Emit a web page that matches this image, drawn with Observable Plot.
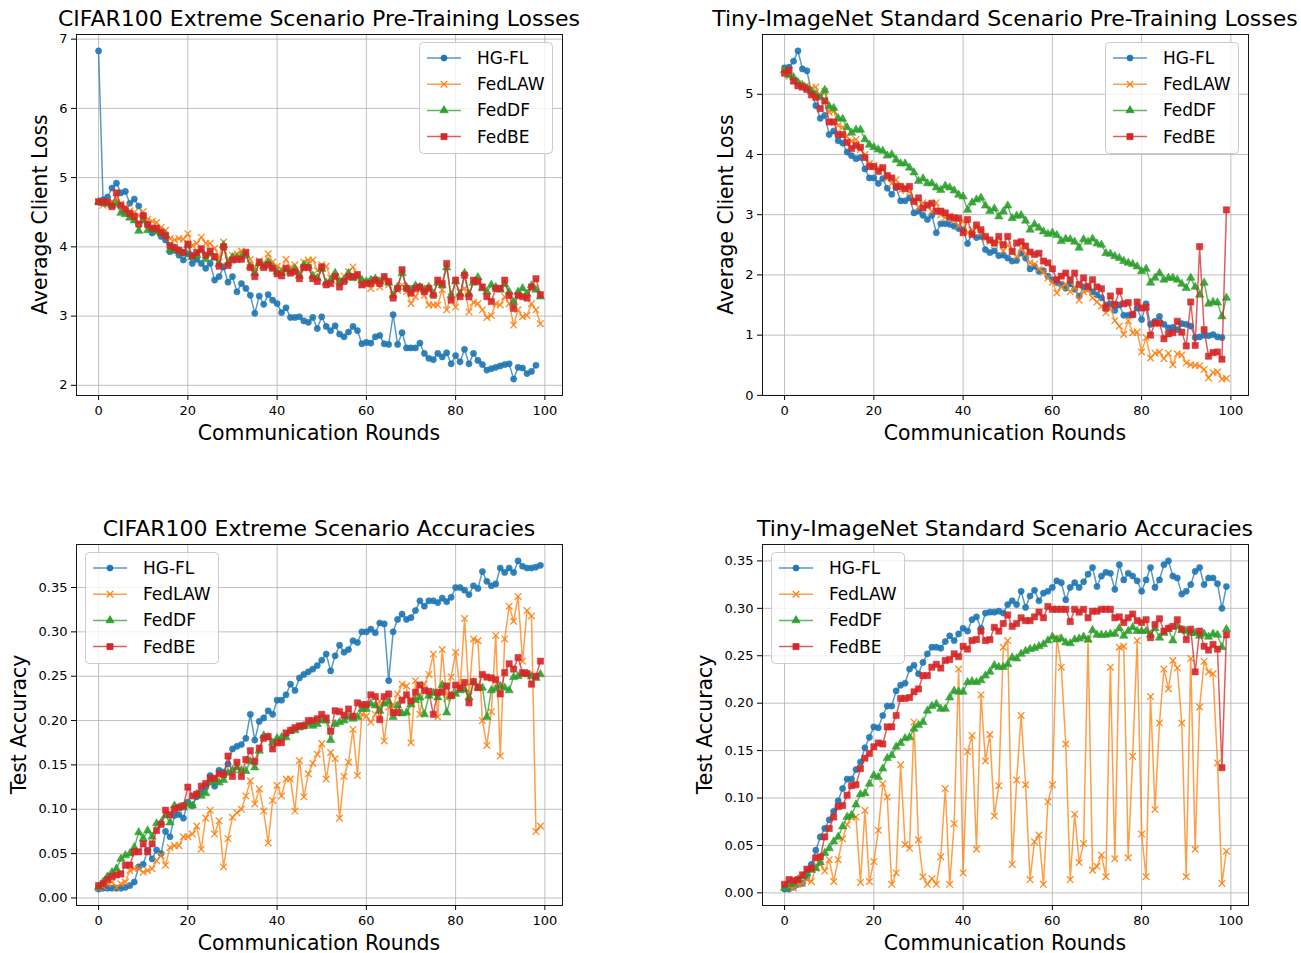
<!DOCTYPE html>
<html><head><meta charset="utf-8">
<script src="https://cdn.jsdelivr.net/npm/d3@7"></script>
<script src="https://cdn.jsdelivr.net/npm/@observablehq/plot@0.6"></script>
<style>
body{margin:0;background:#fff;}
#root{position:relative;width:1301px;height:953px;overflow:hidden;font-family:"DejaVu Sans",sans-serif;}
.panel{position:absolute;}
#overlay{position:absolute;left:0;top:0;pointer-events:none;}
</style></head><body><div id="root"></div>
<script>
// ---------- series meta ----------
const seriesNames = ["HG-FL", "FedLAW", "FedDF", "FedBE"];
const seriesColors = ["#1f77b4", "#ff7f0e", "#2ca02c", "#d62728"];
const seriesSymbols = ["circle", "times", "triangle", "square"];
const seriesR = [3.1, 3.1, 3.1, 3.5];

// ---------- tick values ----------
const xTicks = [0, 20, 40, 60, 80, 100];
const cifarLossTicks = [2, 3, 4, 5, 6, 7];
const tinyLossTicks = [0, 1, 2, 3, 4, 5];
const accTicks = [0, 0.05, 0.10, 0.15, 0.20, 0.25, 0.30, 0.35];

// ---------- CIFAR100 Extreme Scenario Pre-Training Losses ----------
const cifarLossHGFL = [6.83,4.68,4.72,4.85,4.92,4.78,4.80,4.63,4.69,4.59,
4.45,4.33,4.20,4.25,4.15,4.10,3.93,3.95,3.88,3.81,
3.90,3.76,3.82,3.76,3.69,3.76,3.52,3.57,3.71,3.49,
3.57,3.35,3.47,3.40,3.30,3.04,3.29,3.17,3.31,3.23,
3.18,3.05,3.12,2.98,2.98,2.99,2.93,2.91,2.98,2.82,
2.99,2.85,2.79,2.86,2.74,2.70,2.77,2.85,2.79,2.60,
2.62,2.61,2.70,2.72,2.60,2.59,3.02,2.59,2.76,2.54,
2.54,2.54,2.61,2.46,2.39,2.37,2.46,2.41,2.47,2.31,
2.43,2.34,2.52,2.31,2.46,2.36,2.30,2.22,2.24,2.26,
2.28,2.30,2.31,2.09,2.26,2.25,2.17,2.20,2.29];
const cifarLossFedLAW = [4.65,4.60,4.62,4.65,4.70,4.62,4.58,4.52,4.50,4.45,
4.51,4.40,4.37,4.35,4.28,4.24,4.12,4.10,4.12,4.11,
4.19,4.02,4.05,4.14,4.05,4.05,3.98,3.85,4.07,3.80,
3.88,3.90,3.94,3.92,3.82,3.70,3.80,3.75,3.90,3.78,
3.72,3.68,3.82,3.70,3.74,3.62,3.78,3.81,3.81,3.66,
3.74,3.72,3.55,3.57,3.48,3.58,3.64,3.71,3.55,3.45,
3.50,3.40,3.48,3.42,3.50,3.45,3.30,3.37,3.45,3.35,
3.18,3.28,3.38,3.30,3.16,3.16,3.16,3.38,3.09,3.28,
3.13,3.35,3.40,3.06,3.20,3.18,3.09,2.98,3.01,3.18,
3.16,3.28,3.18,2.87,3.09,2.99,3.01,3.18,3.09,2.89];
const cifarLossFedDF = [4.65,4.63,4.62,4.60,4.62,4.49,4.47,4.42,4.38,4.23,
4.38,4.24,4.25,4.22,4.20,4.17,3.96,3.98,3.94,3.90,
4.02,3.85,3.88,3.95,3.82,3.90,3.84,3.75,4.02,3.76,
3.85,3.84,3.86,3.88,3.72,3.62,3.76,3.72,3.78,3.70,
3.64,3.62,3.67,3.64,3.68,3.58,3.74,3.72,3.58,3.55,
3.68,3.48,3.52,3.62,3.50,3.52,3.62,3.55,3.58,3.52,
3.50,3.52,3.54,3.50,3.55,3.48,3.30,3.42,3.62,3.42,
3.38,3.44,3.42,3.38,3.42,3.32,3.48,3.44,3.70,3.30,
3.50,3.32,3.62,3.32,3.48,3.56,3.40,3.35,3.45,3.42,
3.38,3.46,3.35,3.20,3.35,3.40,3.32,3.44,3.38,3.28];
const cifarLossFedBE = [4.65,4.65,4.65,4.58,4.78,4.60,4.54,4.48,4.44,4.33,
4.45,4.32,4.27,4.27,4.21,4.16,4.02,3.99,3.95,3.92,
4.04,3.87,3.92,3.97,3.88,3.94,3.86,3.72,4.00,3.73,
3.81,3.82,3.82,3.92,3.70,3.57,3.78,3.70,3.74,3.69,
3.61,3.58,3.69,3.62,3.64,3.54,3.70,3.70,3.54,3.50,
3.71,3.45,3.47,3.57,3.42,3.50,3.57,3.57,3.60,3.45,
3.47,3.47,3.52,3.47,3.57,3.50,3.26,3.40,3.67,3.40,
3.33,3.40,3.42,3.35,3.40,3.30,3.52,3.47,3.76,3.23,
3.52,3.28,3.59,3.28,3.52,3.50,3.42,3.28,3.21,3.40,
3.40,3.52,3.30,3.11,3.30,3.28,3.26,3.42,3.54,3.31];

// ---------- Tiny-ImageNet Standard Scenario Pre-Training Losses ----------
const tinyLossHGFL = [5.44,5.45,5.55,5.72,5.42,5.39,5.04,4.81,4.60,4.65,
4.33,4.39,4.23,4.19,4.04,3.98,3.93,3.95,3.76,3.61,
3.61,3.52,3.60,3.44,3.34,3.45,3.23,3.23,3.28,3.03,
3.06,2.99,2.92,2.99,2.70,2.85,2.85,2.84,2.81,2.77,
2.75,2.52,2.70,2.62,2.64,2.42,2.37,2.40,2.32,2.33,
2.28,2.23,2.24,2.36,2.28,2.10,2.14,2.06,2.07,1.98,
1.92,1.87,1.84,1.78,1.85,1.76,1.65,1.80,1.77,1.72,
1.67,1.62,1.50,1.52,1.41,1.50,1.33,1.33,1.34,1.45,
1.26,1.52,1.18,1.23,1.31,1.18,1.12,1.13,1.09,1.19,
1.18,1.15,0.96,0.97,1.00,0.99,1.01,0.97,0.96];
const tinyLossFedLAW = [5.40,5.30,5.22,5.18,5.12,5.15,5.10,5.12,4.95,5.05,
4.70,4.72,4.48,4.45,4.30,4.22,4.25,4.08,4.00,3.85,
3.82,3.78,3.75,3.60,3.52,3.58,3.40,3.45,3.38,3.25,
3.12,3.20,3.15,3.05,3.20,3.00,2.95,2.98,2.90,2.82,
2.90,2.70,2.75,2.78,2.70,2.60,2.55,2.50,2.55,2.40,
2.50,2.38,2.30,2.45,2.35,2.20,2.18,2.10,2.05,1.95,
1.88,1.70,1.80,1.85,1.72,1.80,1.58,1.72,1.75,1.62,
1.55,1.48,1.37,1.45,1.24,1.15,1.01,1.24,1.04,1.05,
0.72,0.96,0.62,0.70,0.72,0.61,0.70,0.51,0.69,0.67,
0.54,0.51,0.50,0.49,0.43,0.29,0.38,0.39,0.27,0.28];
const tinyLossFedDF = [5.40,5.32,5.28,5.20,5.15,5.10,5.05,5.00,4.95,5.07,
4.80,4.77,4.60,4.59,4.45,4.36,4.41,4.41,4.25,4.16,
4.12,4.08,4.06,3.98,4.00,3.91,3.85,3.85,3.78,3.70,
3.56,3.60,3.52,3.52,3.45,3.41,3.48,3.45,3.40,3.33,
3.30,3.08,3.20,3.25,3.28,3.15,3.06,3.10,2.97,3.05,
3.15,2.94,2.98,2.99,2.90,2.75,2.84,2.78,2.72,2.68,
2.70,2.66,2.56,2.60,2.59,2.55,2.45,2.59,2.55,2.60,
2.52,2.50,2.36,2.35,2.31,2.28,2.23,2.20,2.18,2.14,
2.06,2.10,1.87,1.95,2.03,1.92,1.95,1.95,1.92,1.85,
1.78,1.95,1.80,1.67,1.87,1.52,1.55,1.54,1.31,1.62];
const tinyLossFedBE = [5.35,5.40,5.22,5.14,5.12,5.08,4.99,4.95,4.76,4.89,
4.54,4.54,4.33,4.33,4.20,4.10,4.15,4.12,3.95,3.80,
3.80,3.72,3.78,3.65,3.61,3.47,3.47,3.43,3.47,3.22,
3.28,3.11,3.16,3.19,3.06,3.06,3.03,2.96,2.95,2.94,
2.70,2.92,2.67,2.83,2.75,2.64,2.58,2.53,2.64,2.50,
2.64,2.39,2.53,2.55,2.48,2.38,2.34,2.36,2.23,2.20,
2.10,1.92,1.98,2.03,1.92,2.03,1.84,1.95,1.81,1.92,
1.80,1.77,1.45,1.65,1.51,1.73,1.52,1.54,1.34,1.55,
1.45,1.46,1.00,1.20,1.20,0.94,1.02,1.04,1.23,1.05,
0.82,1.55,0.83,2.47,1.09,0.65,0.71,0.72,0.60,3.08];

// ---------- CIFAR100 Extreme Scenario Accuracies ----------
const cifarAccHGFL = [0.010,0.011,0.011,0.011,0.011,0.011,0.012,0.014,0.018,0.035,
0.038,0.054,0.044,0.054,0.050,0.075,0.069,0.093,0.094,0.090,
0.108,0.104,0.114,0.119,0.125,0.138,0.126,0.144,0.142,0.151,
0.168,0.171,0.173,0.180,0.207,0.178,0.199,0.203,0.211,0.207,
0.223,0.223,0.229,0.241,0.234,0.248,0.252,0.255,0.258,0.262,
0.268,0.275,0.256,0.273,0.285,0.277,0.280,0.290,0.288,0.300,
0.300,0.303,0.299,0.310,0.309,0.245,0.300,0.314,0.320,0.314,
0.316,0.324,0.335,0.329,0.335,0.335,0.333,0.338,0.334,0.339,
0.350,0.350,0.347,0.342,0.352,0.349,0.368,0.357,0.352,0.354,
0.372,0.367,0.372,0.367,0.380,0.374,0.372,0.372,0.373,0.375];
const cifarAccFedLAW = [0.011,0.013,0.016,0.018,0.012,0.016,0.018,0.031,0.033,0.033,
0.029,0.031,0.033,0.042,0.048,0.037,0.057,0.059,0.059,0.069,
0.069,0.072,0.081,0.055,0.090,0.099,0.072,0.087,0.035,0.067,
0.091,0.096,0.100,0.115,0.132,0.106,0.123,0.098,0.062,0.110,
0.127,0.115,0.134,0.134,0.098,0.155,0.114,0.140,0.152,0.162,
0.174,0.134,0.164,0.157,0.090,0.137,0.153,0.190,0.138,0.207,
0.205,0.198,0.207,0.222,0.177,0.215,0.217,0.230,0.241,0.239,
0.175,0.245,0.207,0.241,0.252,0.275,0.204,0.280,0.225,0.249,
0.277,0.235,0.315,0.228,0.292,0.290,0.200,0.172,0.210,0.296,
0.160,0.292,0.329,0.312,0.340,0.267,0.324,0.318,0.075,0.081];
const cifarAccFedDF = [0.012,0.018,0.024,0.029,0.033,0.044,0.048,0.050,0.057,0.074,
0.067,0.076,0.069,0.084,0.085,0.093,0.085,0.104,0.102,0.102,
0.106,0.104,0.117,0.115,0.118,0.130,0.132,0.130,0.133,0.141,
0.144,0.147,0.144,0.143,0.154,0.147,0.166,0.183,0.181,0.175,
0.180,0.181,0.181,0.188,0.189,0.192,0.194,0.196,0.194,0.196,
0.200,0.200,0.178,0.196,0.198,0.200,0.204,0.202,0.204,0.213,
0.213,0.219,0.217,0.211,0.219,0.221,0.204,0.217,0.208,0.209,
0.218,0.223,0.226,0.207,0.228,0.231,0.226,0.240,0.209,0.228,
0.230,0.234,0.235,0.226,0.243,0.237,0.237,0.204,0.234,0.236,
0.239,0.237,0.234,0.249,0.250,0.252,0.253,0.250,0.248,0.252];
const cifarAccFedBE = [0.014,0.016,0.021,0.024,0.026,0.027,0.037,0.037,0.052,0.052,
0.061,0.052,0.061,0.076,0.083,0.099,0.094,0.100,0.102,0.104,
0.125,0.115,0.117,0.126,0.129,0.135,0.135,0.140,0.139,0.160,
0.137,0.153,0.137,0.156,0.166,0.154,0.169,0.180,0.182,0.168,
0.175,0.175,0.186,0.189,0.192,0.194,0.194,0.200,0.200,0.202,
0.207,0.203,0.188,0.211,0.210,0.206,0.213,0.205,0.220,0.218,
0.218,0.229,0.227,0.201,0.227,0.230,0.209,0.209,0.223,0.229,
0.222,0.232,0.240,0.234,0.233,0.207,0.232,0.232,0.239,0.228,
0.240,0.237,0.243,0.220,0.244,0.237,0.252,0.249,0.248,0.246,
0.230,0.254,0.264,0.258,0.271,0.254,0.253,0.241,0.250,0.267];

// ---------- Tiny-ImageNet Standard Scenario Accuracies ----------
const tinyAccHGFL = [0.004,0.004,0.006,0.009,0.010,0.017,0.030,0.045,0.059,0.068,
0.077,0.086,0.097,0.110,0.120,0.120,0.130,0.138,0.153,0.164,
0.175,0.174,0.187,0.197,0.197,0.213,0.219,0.221,0.236,0.240,
0.231,0.243,0.252,0.259,0.259,0.258,0.265,0.271,0.266,0.273,
0.279,0.276,0.288,0.291,0.279,0.295,0.296,0.296,0.297,0.295,
0.304,0.308,0.304,0.318,0.301,0.313,0.319,0.308,0.316,0.318,
0.322,0.329,0.327,0.309,0.322,0.327,0.322,0.328,0.336,0.343,
0.323,0.334,0.338,0.337,0.320,0.346,0.330,0.337,0.334,0.329,
0.318,0.330,0.343,0.322,0.330,0.346,0.350,0.334,0.332,0.315,
0.318,0.325,0.339,0.343,0.325,0.332,0.332,0.326,0.300,0.323];
const tinyAccFedLAW = [0.007,0.007,0.005,0.009,0.010,0.014,0.012,0.026,0.030,0.023,
0.035,0.012,0.035,0.057,0.072,0.080,0.080,0.011,0.087,0.012,
0.033,0.066,0.115,0.101,0.009,0.021,0.135,0.051,0.047,0.180,
0.056,0.017,0.009,0.015,0.009,0.038,0.110,0.009,0.073,0.236,
0.021,0.149,0.166,0.046,0.209,0.139,0.167,0.081,0.113,0.259,
0.266,0.030,0.119,0.187,0.114,0.014,0.054,0.061,0.009,0.096,
0.114,0.269,0.238,0.157,0.014,0.083,0.032,0.052,0.267,0.024,
0.028,0.040,0.017,0.238,0.036,0.259,0.260,0.037,0.144,0.266,
0.062,0.017,0.207,0.088,0.179,0.236,0.215,0.245,0.237,0.179,
0.017,0.247,0.046,0.196,0.244,0.233,0.231,0.137,0.010,0.044];
const tinyAccFedDF = [0.005,0.009,0.010,0.014,0.017,0.021,0.024,0.026,0.032,0.042,
0.047,0.054,0.059,0.070,0.080,0.082,0.093,0.104,0.105,0.115,
0.124,0.122,0.131,0.142,0.145,0.154,0.158,0.163,0.164,0.173,
0.177,0.180,0.192,0.197,0.199,0.194,0.194,0.206,0.213,0.212,
0.212,0.222,0.223,0.222,0.224,0.229,0.233,0.240,0.238,0.238,
0.241,0.248,0.247,0.252,0.255,0.257,0.258,0.260,0.262,0.266,
0.270,0.267,0.268,0.264,0.263,0.267,0.268,0.270,0.267,0.277,
0.272,0.272,0.272,0.273,0.273,0.279,0.271,0.276,0.280,0.276,
0.276,0.276,0.272,0.279,0.269,0.274,0.278,0.266,0.281,0.277,
0.276,0.274,0.274,0.271,0.273,0.270,0.273,0.272,0.259,0.278];
const tinyAccFedBE = [0.009,0.014,0.013,0.014,0.019,0.025,0.026,0.037,0.038,0.059,
0.068,0.080,0.091,0.092,0.103,0.113,0.114,0.131,0.142,0.147,
0.154,0.158,0.157,0.175,0.175,0.187,0.205,0.205,0.206,0.212,
0.215,0.229,0.229,0.238,0.241,0.237,0.245,0.246,0.252,0.249,
0.260,0.257,0.266,0.267,0.276,0.266,0.267,0.280,0.276,0.284,
0.293,0.281,0.284,0.290,0.287,0.287,0.291,0.296,0.290,0.302,
0.299,0.299,0.299,0.299,0.286,0.299,0.296,0.299,0.290,0.297,
0.297,0.299,0.299,0.299,0.290,0.291,0.285,0.290,0.294,0.287,
0.285,0.288,0.269,0.283,0.289,0.276,0.279,0.281,0.288,0.278,
0.267,0.278,0.233,0.276,0.260,0.256,0.262,0.257,0.132,0.272];

// ---------- panels ----------
const panels = [
  {title: "CIFAR100 Extreme Scenario Pre-Training Losses", ylabel: "Average Client Loss",
   series: [cifarLossHGFL, cifarLossFedLAW, cifarLossFedDF, cifarLossFedBE], yTicks: cifarLossTicks, fmt: d3.format("d"),
   left: 0, top: 0, width: 650, height: 470, ml: 76, mr: 88, mt: 34, mb: 75,
   legend: [419, 42], cx: 319, titleY: 25.5, xlabY: 439.5, ylabX: 47, ylabY: 214.5},
  {title: "Tiny-ImageNet Standard Scenario Pre-Training Losses", ylabel: "Average Client Loss",
   series: [tinyLossHGFL, tinyLossFedLAW, tinyLossFedDF, tinyLossFedBE], yTicks: tinyLossTicks, fmt: d3.format("d"),
   left: 686, top: 0, width: 615, height: 470, ml: 76, mr: 53, mt: 34, mb: 75,
   legend: [1105, 42], cx: 1005, titleY: 25.5, xlabY: 439.5, ylabX: 733, ylabY: 214.5},
  {title: "CIFAR100 Extreme Scenario Accuracies", ylabel: "Test Accuracy",
   series: [cifarAccHGFL, cifarAccFedLAW, cifarAccFedDF, cifarAccFedBE], yTicks: accTicks, fmt: d3.format(".2f"),
   left: 0, top: 510, width: 650, height: 440, ml: 76, mr: 88, mt: 34, mb: 45,
   legend: [85, 552], cx: 319, titleY: 535.5, xlabY: 949.5, ylabX: 26, ylabY: 724.5},
  {title: "Tiny-ImageNet Standard Scenario Accuracies", ylabel: "Test Accuracy",
   series: [tinyAccHGFL, tinyAccFedLAW, tinyAccFedDF, tinyAccFedBE], yTicks: accTicks, fmt: d3.format(".2f"),
   left: 686, top: 510, width: 615, height: 440, ml: 76, mr: 53, mt: 34, mb: 45,
   legend: [771, 552], cx: 1005, titleY: 535.5, xlabY: 949.5, ylabX: 712, ylabY: 724.5}
];

const root = document.getElementById("root");

function renderPanel(p) {
  const all = p.series.flat();
  const lo = d3.min(all), hi = d3.max(all), pad = (hi - lo) * 0.05;
  const n = d3.max(p.series, s => s.length) - 1;
  const marks = [
    Plot.ruleX(xTicks, {stroke: "#b0b0b0", strokeWidth: 0.8}),
    Plot.ruleY(p.yTicks, {stroke: "#b0b0b0", strokeWidth: 0.8})
  ];
  p.series.forEach((vals, k) => {
    const rows = vals.map((v, i) => ({round: i, value: v}));
    marks.push(Plot.line(rows, {x: "round", y: "value", stroke: seriesColors[k], strokeWidth: 1.5, strokeOpacity: 0.75}));
    const sym = seriesSymbols[k];
    const o = {x: "round", y: "value", symbol: sym, r: seriesR[k]};
    if (sym === "times") Object.assign(o, {stroke: seriesColors[k], strokeWidth: 1.3, fill: "none", strokeOpacity: 0.9});
    else Object.assign(o, {fill: seriesColors[k], stroke: seriesColors[k], strokeWidth: 0.6, fillOpacity: 0.9, strokeOpacity: 0.9});
    marks.push(Plot.dot(rows, o));
  });
  marks.push(Plot.frame({stroke: "#000", strokeWidth: 0.9}));
  const chart = Plot.plot({
    width: p.width, height: p.height,
    marginLeft: p.ml, marginRight: p.mr, marginTop: p.mt, marginBottom: p.mb,
    style: {fontFamily: '"DejaVu Sans", sans-serif', fontSize: "13px", background: "transparent", color: "#000", overflow: "visible"},
    x: {domain: [-0.05 * n, n * 1.05], ticks: xTicks, tickSize: 5, tickPadding: 5, label: null},
    y: {domain: [lo - pad, hi + pad], ticks: p.yTicks, tickSize: 5, tickPadding: 4, tickFormat: p.fmt, label: null},
    marks
  });
  chart.classList.add("panel");
  chart.style.left = p.left + "px";
  chart.style.top = p.top + "px";
  root.appendChild(chart);
}
panels.forEach(renderPanel);

// ---------- overlay: titles, axis labels, legends ----------
const svg = d3.select(root).append("svg").attr("id", "overlay")
  .attr("width", 1301).attr("height", 953)
  .style("font-family", '"DejaVu Sans", sans-serif');

panels.forEach(p => {
  svg.append("text").attr("x", p.cx).attr("y", p.titleY).attr("text-anchor", "middle")
    .attr("font-size", 22).attr("fill", "#000").text(p.title);
  svg.append("text").attr("x", p.cx).attr("y", p.xlabY).attr("text-anchor", "middle")
    .attr("font-size", 20.4).attr("fill", "#000").text("Communication Rounds");
  svg.append("text").attr("transform", `translate(${p.ylabX},${p.ylabY}) rotate(-90)`)
    .attr("text-anchor", "middle").attr("font-size", 20.4).attr("fill", "#000").text(p.ylabel);

  const [lx, ly] = p.legend;
  const g = svg.append("g");
  g.append("rect").attr("x", lx + 0.5).attr("y", ly + 0.5).attr("width", 133).attr("height", 111)
    .attr("rx", 4).attr("fill", "#fff").attr("fill-opacity", 0.8).attr("stroke", "#cccccc").attr("stroke-width", 1);
  seriesNames.forEach((name, k) => {
    const cy = ly + 16 + k * 26.2;
    g.append("line").attr("x1", lx + 8).attr("x2", lx + 42).attr("y1", cy).attr("y2", cy)
      .attr("stroke", seriesColors[k]).attr("stroke-width", 1.5).attr("stroke-opacity", 0.75);
    const symType = {circle: d3.symbolCircle, times: d3.symbolTimes, triangle: d3.symbolTriangle, square: d3.symbolSquare}[seriesSymbols[k]];
    const path = g.append("path").attr("transform", `translate(${lx + 25},${cy})`)
      .attr("d", d3.symbol(symType, Math.PI * seriesR[k] * seriesR[k])());
    if (seriesSymbols[k] === "times") path.attr("fill", "none").attr("stroke", seriesColors[k]).attr("stroke-width", 1.3);
    else path.attr("fill", seriesColors[k]).attr("stroke", seriesColors[k]).attr("stroke-width", 0.6);
    g.append("text").attr("x", lx + 58).attr("y", cy + 6).attr("font-size", 17).attr("fill", "#000").text(name);
  });
});
</script></body></html>
